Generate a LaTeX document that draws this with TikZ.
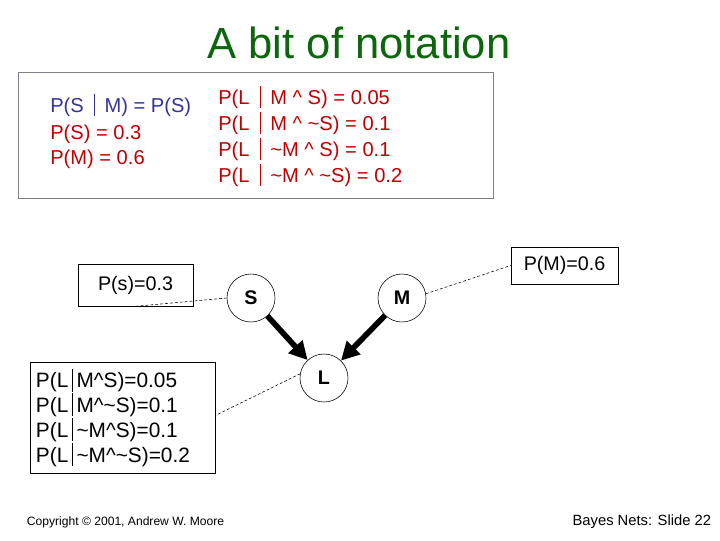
\documentclass[tikz,border=0pt]{standalone}
\usepackage{fontspec}
\setmainfont{Liberation Sans}
\usepackage{xcolor}
\usetikzlibrary{arrows.meta,positioning,calc}
\definecolor{titlegreen}{RGB}{12,102,12}
\definecolor{noteblue}{RGB}{51,51,153}
\definecolor{notered}{RGB}{192,0,0}
\definecolor{framegray}{RGB}{128,128,140}
\newcommand{\given}{\hspace{0.5em}\rule[-0.18em]{0.5pt}{1.1em}\hspace{0.5em}}
\newcommand{\tgiven}{\hspace{0.18em}\rule[-0.18em]{0.5pt}{1.1em}\hspace{0.18em}}

\begin{document}
\begin{tikzpicture}[x=0.025cm, y=-0.025cm,
  var/.style={draw, circle, thin, minimum size=1.2cm, inner sep=0pt, font=\fontsize{14}{16}\selectfont\bfseries},
  cpt/.style={draw, thin, inner sep=0pt, font=\fontsize{14}{17.4}\selectfont},
  link/.style={-{Triangle[length=13pt, width=13pt]}, line width=4pt},
  note/.style={thin, dash pattern=on 2pt off 1.5pt},
  txt/.style={anchor=base west, inner sep=0pt, font=\fontsize{14.3}{17}\selectfont}]
  \useasboundingbox (0,0) rectangle (720,540);
  % title
  \node[anchor=base, font=\fontsize{31}{36}\selectfont, text=titlegreen] (title) at (359,58) {A bit of notation};
  % notation box
  \draw[framegray] (18,72) rectangle (493,198);
  \node[txt, text=noteblue] (ind) at (50,112.5) {P(S\given M) = P(S)};
  \node[txt, text=notered] (ps0) at (50,139) {P(S) = 0.3};
  \node[txt, text=notered] (pm0) at (50,164) {P(M) = 0.6};
  \node[txt, text=notered] (l1) at (218,104) {P(L\given M \^{} S) = 0.05};
  \node[txt, text=notered] (l2) at (218,130) {P(L\given M \^{} \textasciitilde S) = 0.1};
  \node[txt, text=notered] (l3) at (218,156) {P(L\given \textasciitilde M \^{} S) = 0.1};
  \node[txt, text=notered] (l4) at (218,182) {P(L\given \textasciitilde M \^{} \textasciitilde S) = 0.2};
  % network
  \node[var] (S) at (251,298) {S};
  \node[var] (M) at (402,298) {M};
  \node[var] (L) at (324,378) {L};
  \draw[link] (S) -- (L);
  \draw[link] (M) -- (L);
  % tables
  \node[cpt, minimum width=2.875cm, minimum height=1.05cm] (ps) at (135.5,285) {P(s)=0.3};
  \node[cpt, minimum width=2.675cm, minimum height=0.925cm] (pm) at (564.5,265.5) {P(M)=0.6};
  \node[cpt, font=\fontsize{14.8}{17.6}\selectfont, inner xsep=0.15cm, text width=4.325cm,
    minimum height=2.775cm, align=left] (pl) at (122.5,417.5)
    {P(L\tgiven M\^{}S)=0.05\\P(L\tgiven M\^{}\textasciitilde S)=0.1\\P(L\tgiven \textasciitilde M\^{}S)=0.1\\P(L\tgiven \textasciitilde M\^{}\textasciitilde S)=0.2};
  \draw[note] (S.west) -- (ps.south);
  \draw[note] (M.10) -- (pm.west);
  \draw[note] (L.170) -- ($(pl.east)+(0,-2)$);
  % footer
  \node[anchor=base west, font=\fontsize{8.6}{10}\selectfont] (copy) at (22,525) {Copyright © 2001, Andrew W. Moore};
  \node[anchor=base east, font=\fontsize{10.5}{12}\selectfont] (slide) at (716,525) {Bayes Nets: Slide 22};
\end{tikzpicture}
\end{document}
